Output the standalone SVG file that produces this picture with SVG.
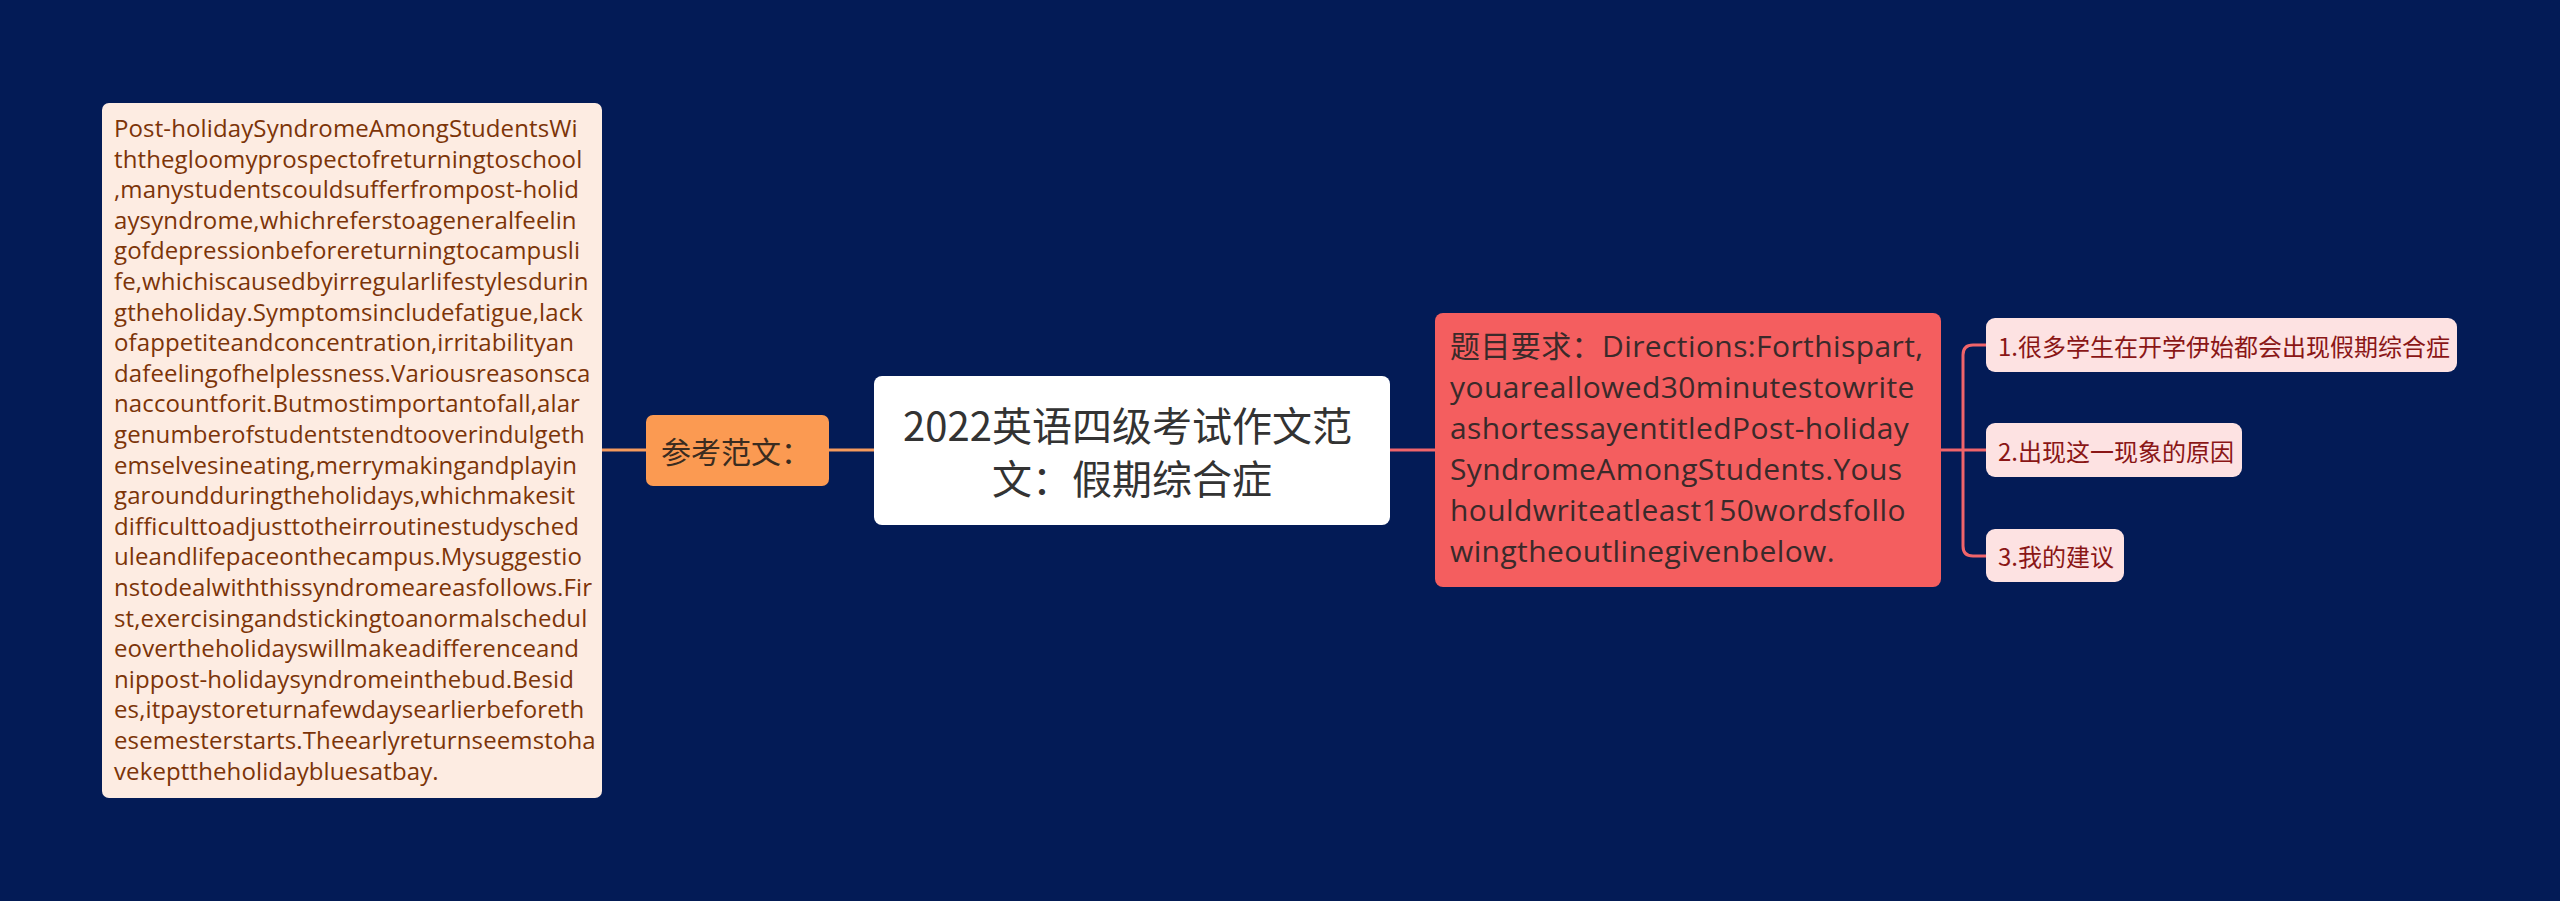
<svg xmlns="http://www.w3.org/2000/svg" width="2560" height="901" viewBox="0 0 2560 901">
<style>
.bg{fill:#031b56}
.essay{fill:#fdece2}
.essay-t{font-family:"Open Sans","Noto Sans CJK SC",sans-serif;font-size:24px;letter-spacing:0.12px;fill:#7c3408}
.orange{fill:#fb9a52}
.orange-t{font-family:"Noto Sans CJK SC",sans-serif;font-size:30px;fill:#3a2c20}
.root{fill:#ffffff}
.root-t{font-family:"Noto Sans CJK SC",sans-serif;font-size:40px;fill:#333333}
.red{fill:#f45e5f}
.red-t{font-family:"Open Sans","Noto Sans CJK SC",sans-serif;font-size:30px;letter-spacing:0.4px;fill:#3a2a2a}
.pink{fill:#fde2e2}
.pink-t{font-family:"Noto Sans CJK SC",sans-serif;font-size:24px;fill:#8a1616}
.c-or{stroke:#f59a5c;stroke-width:3;fill:none}
.c-red{stroke:#f0646a;stroke-width:3;fill:none}
</style>
<rect class="bg" x="0" y="0" width="2560" height="901"/>
<g id="connectors">
<path class="c-or" d="M602,450 H646"/>
<path class="c-or" d="M829,450 H874"/>
<path class="c-red" d="M1390,450 H1435"/>
<path class="c-red" d="M1941,450 H1986"/>
<path class="c-red" d="M1986,345 H1973 Q1963,345 1963,355 V546 Q1963,556 1973,556 H1986"/>
</g>
<g id="node-essay">
<rect class="essay" x="102" y="103" width="500" height="695" rx="7"/>
<text class="essay-t" x="114">
<tspan x="114" y="137">Post-holidaySyndromeAmongStudentsWi</tspan>
<tspan x="114" y="167.6">ththegloomyprospectofreturningtoschool</tspan>
<tspan x="114" y="198.2">,manystudentscouldsufferfrompost-holid</tspan>
<tspan x="114" y="228.8">aysyndrome,whichreferstoageneralfeelin</tspan>
<tspan x="114" y="259.4">gofdepressionbeforereturningtocampusli</tspan>
<tspan x="114" y="290">fe,whichiscausedbyirregularlifestylesdurin</tspan>
<tspan x="114" y="320.6">gtheholiday.Symptomsincludefatigue,lack</tspan>
<tspan x="114" y="351.2">ofappetiteandconcentration,irritabilityan</tspan>
<tspan x="114" y="381.8">dafeelingofhelplessness.Variousreasonsca</tspan>
<tspan x="114" y="412.4">naccountforit.Butmostimportantofall,alar</tspan>
<tspan x="114" y="443">genumberofstudentstendtooverindulgeth</tspan>
<tspan x="114" y="473.6">emselvesineating,merrymakingandplayin</tspan>
<tspan x="114" y="504.2">garoundduringtheholidays,whichmakesit</tspan>
<tspan x="114" y="534.8">difficulttoadjusttotheirroutinestudysched</tspan>
<tspan x="114" y="565.4">uleandlifepaceonthecampus.Mysuggestio</tspan>
<tspan x="114" y="596">nstodealwiththissyndromeareasfollows.Fir</tspan>
<tspan x="114" y="626.6">st,exercisingandstickingtoanormalschedul</tspan>
<tspan x="114" y="657.2">eovertheholidayswillmakeadifferenceand</tspan>
<tspan x="114" y="687.8">nippost-holidaysyndromeinthebud.Besid</tspan>
<tspan x="114" y="718.4">es,itpaystoreturnafewdaysearlierbeforeth</tspan>
<tspan x="114" y="749">esemesterstarts.Theearlyreturnseemstoha</tspan>
<tspan x="114" y="779.6">vekepttheholidaybluesatbay.</tspan>
</text>
</g>
<g id="node-sample">
<rect class="orange" x="646" y="415" width="183" height="71" rx="7"/>
<text class="orange-t" x="661" y="450" dominant-baseline="central">参考范文：</text>
</g>
<g id="node-root">
<rect class="root" x="874" y="376" width="516" height="149" rx="8"/>
<text class="root-t" text-anchor="middle" dominant-baseline="central">
<tspan x="1132" y="424">2022英语四级考试作文范</tspan>
<tspan x="1132" y="477">文：假期综合症</tspan>
</text>
</g>
<g id="node-req">
<rect class="red" x="1435" y="313" width="506" height="274" rx="8"/>
<text class="red-t">
<tspan x="1450" y="357.3">题目要求：Directions:Forthispart,</tspan>
<tspan x="1450" y="398.2">youareallowed30minutestowrite</tspan>
<tspan x="1450" y="439.1">ashortessayentitledPost-holiday</tspan>
<tspan x="1450" y="480">SyndromeAmongStudents.Yous</tspan>
<tspan x="1450" y="520.9">houldwriteatleast150wordsfollo</tspan>
<tspan x="1450" y="561.8">wingtheoutlinegivenbelow.</tspan>
</text>
</g>
<g id="node-1">
<rect class="pink" x="1986" y="318" width="471" height="54" rx="9"/>
<text class="pink-t" x="1998" y="345" dominant-baseline="central">1.很多学生在开学伊始都会出现假期综合症</text>
</g>
<g id="node-2">
<rect class="pink" x="1986" y="423" width="256" height="54" rx="9"/>
<text class="pink-t" x="1998" y="450" dominant-baseline="central">2.出现这一现象的原因</text>
</g>
<g id="node-3">
<rect class="pink" x="1986" y="529" width="138" height="53" rx="9"/>
<text class="pink-t" x="1998" y="555.5" dominant-baseline="central">3.我的建议</text>
</g>
</svg>
